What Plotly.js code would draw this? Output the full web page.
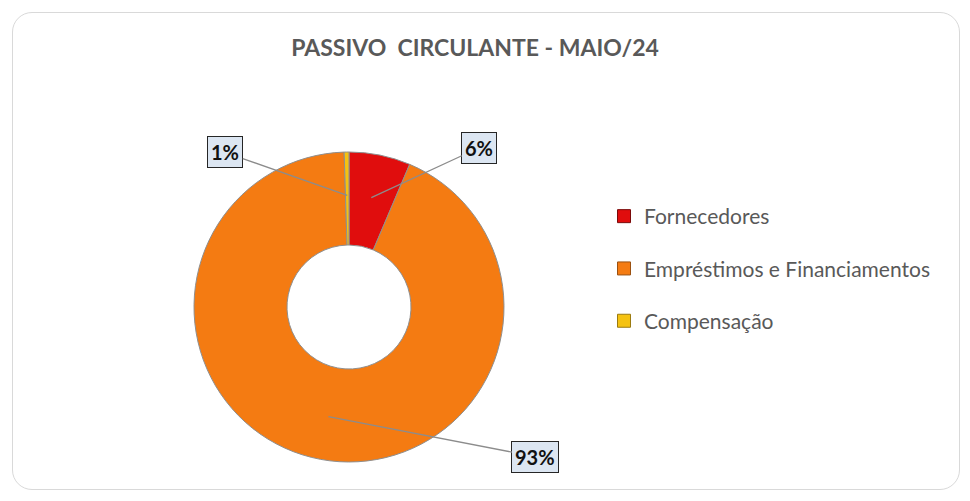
<!DOCTYPE html>
<html>
<head>
<meta charset="utf-8">
<script src="https://cdn.plot.ly/plotly-3.0.1.min.js"></script>
<style>
  html, body { margin: 0; padding: 0; background: #ffffff; }
  #wrap { position: relative; width: 970px; height: 501px; }
  #chart { width: 970px; height: 501px; }
  #frame { position: absolute; left: 12px; top: 12px; width: 946px; height: 476px;
           border: 1px solid #d9d9d9; border-radius: 20px; pointer-events: none; }
</style>
</head>
<body>
<div id="wrap">
  <div id="chart"></div>
  <div id="frame"></div>
</div>
<script>
// ---- data ----
var categories = ["Fornecedores", "Empréstimos e Financiamentos", "Compensação"];
var values = [6.4, 93.1, 0.5];
var percentLabels = ["6%", "93%", "1%"];
var colors = ["#e00d0d", "#f47b12", "#f5c211"];
var lineColors = ["#7a0a0a", "#9a5010", "#9a7a10"];

// ---- geometry of the pie (layout only) ----
var W = 970, H = 501;
var cx = 349, cy = 307, R = 155;
var dom = { x: [(cx - R) / W, (cx + R) / W], y: [1 - (cy + R) / H, 1 - (cy - R) / H] };

// label box offsets (pixels from anchor) per slice
var labelOffsets = [[108, -50], [207, 40], [-122, -43]];
var anchorFrac = 0.72;

var total = values.reduce(function (a, b) { return a + b; }, 0);
var annotations = [];
var cum = 0;
for (var i = 0; i < values.length; i++) {
  var mid = (cum + values[i] / 2) / total * 2 * Math.PI;
  cum += values[i];
  var px = cx + anchorFrac * R * Math.sin(mid);
  var py = cy - anchorFrac * R * Math.cos(mid);
  annotations.push({
    x: px / W, y: 1 - py / H, xref: "paper", yref: "paper",
    text: "<b>" + percentLabels[i] + "</b>",
    showarrow: true, arrowhead: 0, arrowwidth: 1.3, arrowcolor: "#8c8c8c",
    ax: labelOffsets[i][0], ay: labelOffsets[i][1],
    font: { family: "Lato, 'Open Sans', sans-serif", size: 20, color: "#111111" },
    bgcolor: "#dce6f2", bordercolor: "#262626", borderwidth: 1, borderpad: 3
  });
}

var traces = [{
  type: "pie",
  labels: categories,
  values: values,
  sort: false,
  direction: "clockwise",
  rotation: 0,
  hole: 0.4,
  textinfo: "none",
  hoverinfo: "label+percent",
  showlegend: false,
  domain: dom,
  marker: { colors: colors, line: { color: "#8f8f8f", width: 1 } }
}];

for (var j = 0; j < categories.length; j++) {
  traces.push({
    type: "scatter", mode: "markers",
    x: [null], y: [null],
    name: categories[j],
    legendgroup: "g" + j,
    showlegend: true,
    marker: { symbol: "square", size: 13, color: colors[j], line: { color: lineColors[j], width: 1 } },
    hoverinfo: "skip"
  });
}

var layout = {
  width: W, height: H,
  margin: { l: 0, r: 0, t: 0, b: 0 },
  paper_bgcolor: "#ffffff",
  plot_bgcolor: "rgba(0,0,0,0)",
  title: {
    text: "<b>PASSIVO&nbsp;&nbsp;CIRCULANTE - MAIO/24</b>",
    x: 475 / W, xanchor: "center", y: 1 - 48 / H, yanchor: "middle",
    font: { family: "Lato, 'Open Sans', sans-serif", size: 23, color: "#595959" }
  },
  xaxis: { visible: false, range: [0, 1], fixedrange: true },
  yaxis: { visible: false, range: [0, 1], fixedrange: true },
  showlegend: true,
  legend: {
    x: 604 / W, xanchor: "left", y: 1 - 196 / H, yanchor: "top",
    font: { family: "Lato, 'Open Sans', sans-serif", size: 21, color: "#595959" },
    tracegroupgap: 22,
    bgcolor: "rgba(0,0,0,0)",
    itemclick: false, itemdoubleclick: false
  },
  annotations: annotations
};

Plotly.newPlot("chart", traces, layout, { displayModeBar: false, staticPlot: true });
</script>
</body>
</html>
